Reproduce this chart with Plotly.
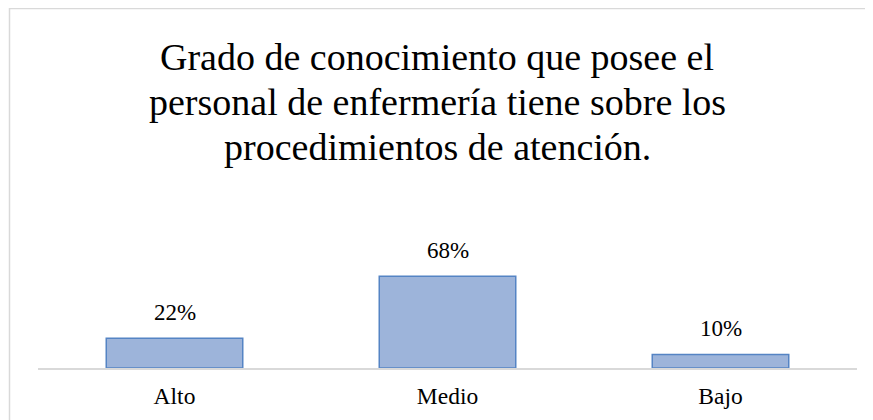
import plotly.graph_objects as go

categories = ["Alto", "Medio", "Bajo"]
values = [22, 68, 10]
labels = ["22%", "68%", "10%"]
title_lines = ["Grado de conocimiento que posee el",
               "personal de enfermería tiene sobre los",
               "procedimientos de atención."]

W, H = 873, 420
OFF = 8  # page body margin
ml, mr, mt, mb = 38 - OFF, 873 - (857 - OFF), 260 - OFF, 420 - (368 - OFF)
pw, ph = W - ml - mr, H - mt - mb
yr = [0, 80]

def px_to_paper_x(px):
    return (px - ml) / pw

def px_to_paper_y(py):
    return (H - mb - py) / ph

fig = go.Figure()
fig.add_trace(go.Bar(
    x=categories, y=values, width=0.5,
    marker=dict(color="#9DB4DA", line=dict(color="#5584C4", width=1.5)),
    hoverinfo="skip",
))

annotations = []
for c, v, t in zip(categories, values, labels):
    annotations.append(dict(x=c, y=v, text=t, showarrow=False, yanchor="middle",
                            yshift=26, font=dict(family="Liberation Serif", size=23, color="#000000")))

line_y = [49, 94, 139]
for ln, py in zip(title_lines, line_y):
    annotations.append(dict(xref="paper", yref="paper", x=px_to_paper_x(437 - OFF),
                            y=px_to_paper_y(py), text=ln, showarrow=False,
                            xanchor="center", yanchor="middle",
                            font=dict(family="Liberation Serif", size=38, color="#000000")))

fig.update_layout(
    width=W, height=H,
    margin=dict(l=ml, r=mr, t=mt, b=mb),
    paper_bgcolor="white", plot_bgcolor="white",
    showlegend=False,
    annotations=annotations,
    xaxis=dict(showline=True, linecolor="#D9D9D9", linewidth=1.5, ticks="",
               showgrid=False, zeroline=False, ticklabelstandoff=6,
               tickfont=dict(family="Liberation Serif", size=23.5, color="#000000")),
    yaxis=dict(range=yr, visible=False, showgrid=False, zeroline=False),
    shapes=[dict(type="rect", xref="paper", yref="paper",
                 x0=px_to_paper_x(1.5), x1=px_to_paper_x(900),
                 y0=px_to_paper_y(440), y1=px_to_paper_y(0.5),
                 line=dict(color="#D9D9D9", width=1.5), fillcolor="rgba(0,0,0,0)",
                 layer="below")],
)

fig.write_html("out.html")
